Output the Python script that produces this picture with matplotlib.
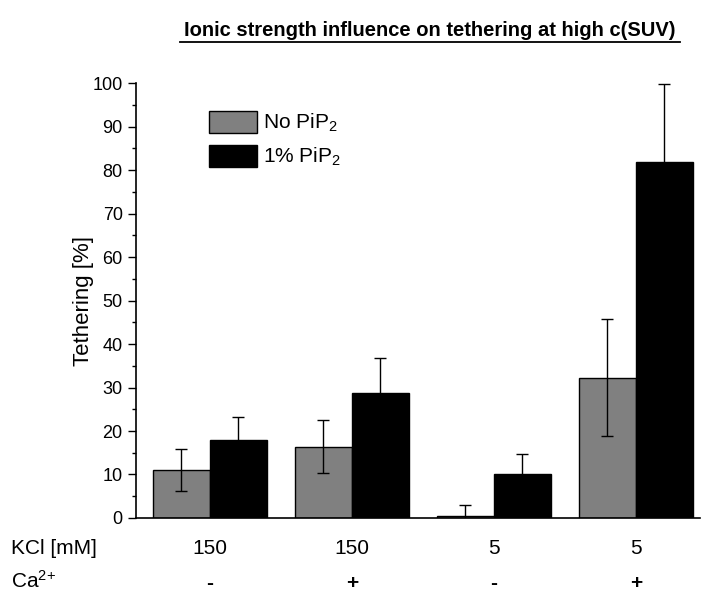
import numpy as np
import matplotlib
matplotlib.use("Agg")
import matplotlib.pyplot as plt
from matplotlib.ticker import MultipleLocator
import matplotlib.transforms as mtransforms

plt.rcParams['font.family'] = ['Liberation Sans', 'DejaVu Sans']
plt.rcParams['mathtext.fontset'] = 'custom'
plt.rcParams['mathtext.rm'] = 'Liberation Sans'
plt.rcParams['mathtext.it'] = 'Liberation Sans'

# ---- data ----
kcl_labels = ["150", "150", "5", "5"]
ca_labels = ["-", "+", "-", "+"]
no_pip = [11.0, 16.4, 0.5, 32.3]
no_pip_err = [4.9, 6.1, 2.5, 13.4]
pip_1 = [17.9, 28.7, 10.0, 81.8]
pip_1_err = [5.4, 8.1, 4.6, 18.0]
series_names = ["No PiP$_2$", "1% PiP$_2$"]

# ---- figure ----
fig = plt.figure(figsize=(7.04, 5.94), dpi=100)
ax = fig.add_axes([0.193, 0.128, 0.801, 0.732])

x = np.arange(len(kcl_labels))
w = 0.4
err_kw = dict(ecolor="black", elinewidth=1, capsize=4, capthick=1)
ax.bar(x - w / 2, no_pip, w, yerr=no_pip_err, color="#808080",
       edgecolor="black", linewidth=1, error_kw=err_kw, label=series_names[0])
ax.bar(x + w / 2, pip_1, w, yerr=pip_1_err, color="black",
       edgecolor="black", linewidth=1, error_kw=err_kw, label=series_names[1])

ax.set_xlim(-0.52, 3.45)
ax.set_ylim(0, 100)
ax.yaxis.set_major_locator(MultipleLocator(10))
ax.yaxis.set_minor_locator(MultipleLocator(5))
ax.tick_params(axis="y", which="major", direction="out", length=6, width=1, labelsize=13)
ax.tick_params(axis="y", which="minor", direction="out", length=3, width=1)
ax.set_xticks([])
for s in ["top", "right"]:
    ax.spines[s].set_visible(False)
ax.spines["left"].set_linewidth(1.2)
ax.spines["bottom"].set_linewidth(1.2)

ax.set_ylabel("Tethering [%]", fontsize=16, labelpad=-1)

# legend
ax.legend(loc="upper left", bbox_to_anchor=(0.097, 0.98), frameon=False,
          fontsize=15, handlelength=2.3, handleheight=1.3, handletextpad=0.3,
          labelspacing=0.5)

# title
fig.text(0.61, 0.948, "Ionic strength influence on tethering at high c(SUV)",
         ha="center", va="center", fontsize=14.5, fontweight="bold")
fig.lines.append(plt.Line2D([0.256, 0.966], [0.930, 0.930], color="black",
                            linewidth=1.3, transform=fig.transFigure))

# condition rows under the axis
trans = mtransforms.blended_transform_factory(ax.transData, fig.transFigure)
for xi, k, c in zip(x, kcl_labels, ca_labels):
    ax.text(xi, 0.077, k, transform=trans, ha="center", va="center", fontsize=15)
    ax.text(xi, 0.018, c, transform=trans, ha="center", va="center",
            fontsize=15, fontweight="bold")
fig.text(0.015, 0.077, "KCl [mM]", ha="left", va="center", fontsize=15)
fig.text(0.015, 0.022, "Ca$^{2{+}}$", ha="left", va="center", fontsize=15)

fig.savefig("out.png", dpi=100)
